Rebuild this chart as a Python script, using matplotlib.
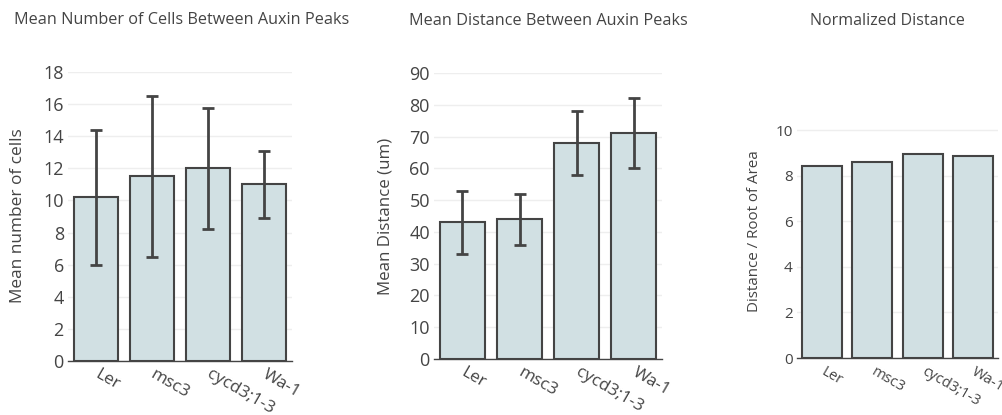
import numpy as np
from matplotlib import pyplot as plt

plt.rcParams['font.family'] = ['Open Sans', 'DejaVu Sans']

strains = ['Ler', 'msc3', 'cycd3;1-3', 'Wa-1']

# mean number of cells between auxin peaks
cells_mean = [10.2, 11.5, 12.0, 11.0]
cells_err = [4.2, 5.0, 3.75, 2.1]

# mean distance between peaks (um)
dist_mean = [43, 44, 68, 71]
dist_err = [10, 8, 10, 11]

# distance / root of area
norm_dist = [8.42, 8.62, 8.95, 8.85]

BAR = '#d1e0e3'
DARK = '#444444'
W, H = 1003, 415


def px_axes(fig, left, right, top, bottom):
    # pixel box -> figure fraction
    return fig.add_axes([left / W, (H - bottom) / H, (right - left) / W, (bottom - top) / H])


def style(ax, ticks, ymax, fs, xfs):
    ax.set_xlim(-0.5, 3.5)
    ax.set_ylim(0, ymax)
    ax.set_yticks(ticks)
    ax.grid(axis='y', color='#eeeeee', linewidth=1)
    ax.set_axisbelow(True)
    for s in ['top', 'right', 'left']:
        ax.spines[s].set_visible(False)
    ax.spines['bottom'].set_color(DARK)
    ax.spines['bottom'].set_linewidth(1)
    ax.tick_params(axis='y', length=0, pad=3, labelsize=fs, labelcolor=DARK)
    ax.tick_params(axis='x', length=0, pad=9, labelsize=xfs, labelcolor=DARK)
    ax.set_xticks(np.arange(len(strains)))
    ax.set_xticklabels(strains, rotation=-30, ha='left', va='center', rotation_mode='anchor')


fig = plt.figure(figsize=(W / 100, H / 100), dpi=100)
x = np.arange(len(strains))

ax1 = px_axes(fig, 68, 292, 72, 361)
ax1.bar(x, cells_mean, width=0.8, color=BAR, edgecolor=DARK, linewidth=1.5)
ax1.errorbar(x, cells_mean, yerr=cells_err, fmt='none', ecolor=DARK, elinewidth=2, capsize=4, capthick=2)
style(ax1, range(0, 19, 2), 18, 13, 12.3)

ax2 = px_axes(fig, 434, 662, 73, 359)
ax2.bar(x, dist_mean, width=0.8, color=BAR, edgecolor=DARK, linewidth=1.5)
ax2.errorbar(x, dist_mean, yerr=dist_err, fmt='none', ecolor=DARK, elinewidth=2, capsize=4, capthick=2)
style(ax2, range(0, 91, 10), 90, 13, 12.3)

ax3 = px_axes(fig, 797, 998, 128, 358)
ax3.bar(x, norm_dist, width=0.8, color=BAR, edgecolor=DARK, linewidth=1.5)
style(ax3, range(0, 11, 2), 10.1, 11, 10.6)

# titles and y labels placed in pixels
fig.text(182 / W, 1 - 20 / H, 'Mean Number of Cells Between Auxin Peaks', ha='center', va='center', fontsize=11.7, color=DARK)
fig.text(548 / W, 1 - 21 / H, 'Mean Distance Between Auxin Peaks', ha='center', va='center', fontsize=11.7, color=DARK)
fig.text(887 / W, 1 - 21 / H, 'Normalized Distance', ha='center', va='center', fontsize=11.5, color=DARK)

fig.text(18 / W, 1 - 216 / H, 'Mean number of cells', rotation=90, ha='center', va='center', fontsize=12.4, color=DARK)
fig.text(386 / W, 1 - 216 / H, 'Mean Distance (um)', rotation=90, ha='center', va='center', fontsize=12.2, color=DARK)
fig.text(755 / W, 1 - 231 / H, 'Distance / Root of Area', rotation=90, ha='center', va='center', fontsize=10.9, color=DARK)

fig.savefig('out.png', dpi=100)
